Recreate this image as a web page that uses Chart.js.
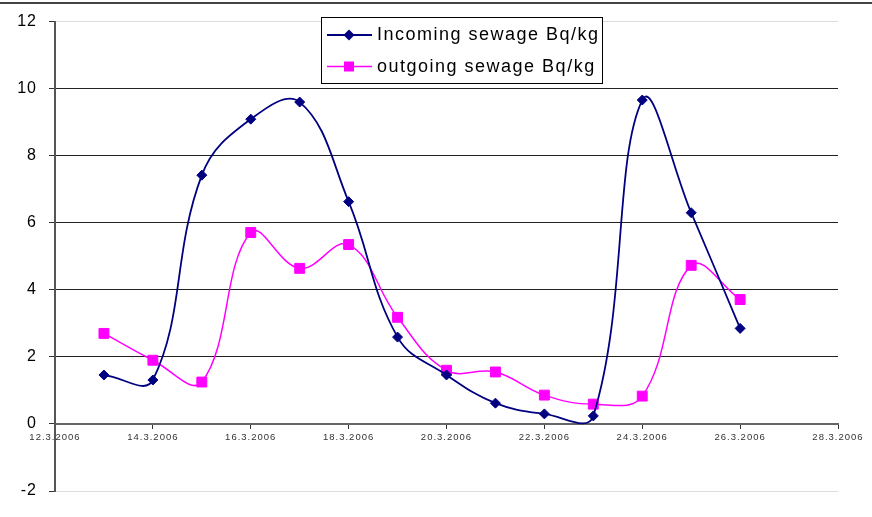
<!DOCTYPE html>
<html>
<head>
<meta charset="utf-8">
<title>Sewage Bq/kg</title>
<script src="https://cdn.jsdelivr.net/npm/chart.js@4.4.0/dist/chart.umd.min.js"></script>
<style>
    body { margin: 0; background: #fff; }
    #wrap { position: relative; width: 872px; height: 517px; }
    #frame { position: absolute; left: 0; top: 2px; width: 872px; height: 2px; background: #444; }
    canvas { position: absolute; left: 0; top: 0; }
</style>
</head>
<body>
<div id="wrap">
    <canvas id="chart" width="872" height="517"></canvas>
    <div id="frame"></div>
</div>
<script>
// Data (day of March 2006)
const days = [13, 14, 15, 16, 17, 18, 19, 20, 21, 22, 23, 24, 25, 26];
const incoming = [1.46, 1.31, 7.42, 9.09, 9.6, 6.63, 2.59, 1.46, 0.62, 0.3, 0.24, 9.66, 6.3, 2.85];
const outgoing = [2.7, 1.9, 1.25, 5.71, 4.64, 5.35, 3.18, 1.6, 1.55, 0.86, 0.59, 0.83, 4.73, 3.71];
const seriesLabels = ['Incoming sewage Bq/kg', 'outgoing sewage Bq/kg'];
const yTicks = [-2, 0, 2, 4, 6, 8, 10, 12];
const xTicks = [12, 14, 16, 18, 20, 22, 24, 26, 28];

function toPoints(values) {
    return days.map((d, i) => ({ x: d, y: values[i] }));
}

// Legend box drawn inside the plot, like the original
const boxLegend = {
    id: 'boxLegend',
    afterDraw(chart) {
        const ctx = chart.ctx;
        const x0 = 321.5, y0 = 17.5, w = 281, h = 66;
        ctx.save();
        ctx.fillStyle = '#fff';
        ctx.fillRect(x0, y0, w, h);
        ctx.strokeStyle = '#000';
        ctx.lineWidth = 1;
        ctx.strokeRect(x0, y0, w, h);

        chart.data.datasets.forEach((ds, i) => {
            const cy = 35 + i * 31.5;
            ctx.strokeStyle = ds.borderColor;
            ctx.lineWidth = ds.borderWidth;
            ctx.beginPath();
            ctx.moveTo(327, cy);
            ctx.lineTo(372, cy);
            ctx.stroke();

            ctx.fillStyle = ds.pointBackgroundColor;
            const cx = 349;
            if (ds.pointStyle === 'rectRot') {
                ctx.beginPath();
                ctx.moveTo(cx, cy - 5.5);
                ctx.lineTo(cx + 5.5, cy);
                ctx.lineTo(cx, cy + 5.5);
                ctx.lineTo(cx - 5.5, cy);
                ctx.closePath();
                ctx.fill();
            } else {
                ctx.fillRect(cx - 5, cy - 5, 10, 10);
            }

            ctx.fillStyle = '#000';
            ctx.font = '18px Arial, "Liberation Sans", sans-serif';
            ctx.letterSpacing = '1.5px';
            ctx.textAlign = 'left';
            ctx.textBaseline = 'alphabetic';
            ctx.fillText(ds.label, 377, cy + 5);
        });
        ctx.restore();
    }
};

const spacing = {
    id: 'spacing',
    beforeDraw(chart) {
        chart.ctx.letterSpacing = '1px';
    }
};

const ctx = document.getElementById('chart').getContext('2d');
const chart = new Chart(ctx, {
    type: 'line',
    data: {
        datasets: [{
            label: seriesLabels[0],
            data: toPoints(incoming),
            borderColor: '#000080',
            backgroundColor: '#000080',
            pointBackgroundColor: '#000080',
            pointBorderColor: '#000080',
            borderWidth: 1.8,
            pointStyle: 'rectRot',
            pointRadius: 5,
            pointBorderWidth: 1,
            tension: 0.4,
            fill: false
        }, {
            label: seriesLabels[1],
            data: toPoints(outgoing),
            borderColor: '#ff00ff',
            backgroundColor: '#ff00ff',
            pointBackgroundColor: '#ff00ff',
            pointBorderColor: '#ff00ff',
            borderWidth: 1.5,
            pointStyle: 'rect',
            pointRadius: 7,
            pointBorderWidth: 1,
            tension: 0.4,
            fill: false
        }]
    },
    options: {
        responsive: false,
        animation: false,
        events: [],
        layout: { padding: { top: 20, right: 34, bottom: 26, left: 0 } },
        plugins: {
            legend: { display: false },
            tooltip: { enabled: false }
        },
        scales: {
            x: {
                type: 'linear',
                position: { y: 0 },
                min: 12,
                max: 28,
                afterFit: scale => { scale.height = 0; },
                afterBuildTicks: scale => { scale.ticks = xTicks.map(v => ({ value: v })); },
                ticks: {
                    autoSkip: false,
                    maxRotation: 0,
                    padding: 4,
                    color: '#333',
                    font: { family: 'Arial, "Liberation Sans", sans-serif', size: 9.5 },
                    callback: v => v + '.3.2006'
                },
                grid: { drawOnChartArea: false, tickLength: 4, tickColor: '#333', tickWidth: 1 },
                border: { color: '#666', width: 2 }
            },
            y: {
                min: -2,
                max: 12,
                afterFit: scale => { scale.width = 55; },
                afterBuildTicks: scale => { scale.ticks = yTicks.map(v => ({ value: v })); },
                ticks: {
                    padding: 12,
                    color: '#000',
                    font: { family: 'Arial, "Liberation Sans", sans-serif', size: 16 }
                },
                grid: {
                    tickLength: 6,
                    tickColor: '#333',
                    lineWidth: 1,
                    color: c => {
                        const v = c.tick ? c.tick.value : null;
                        if (v === 0) return 'rgba(0,0,0,0)';
                        if (v === 12 || v === -2) return '#dddddd';
                        return '#222';
                    }
                },
                border: { color: '#555', width: 2 }
            }
        }
    },
    plugins: [spacing, boxLegend]
});
</script>
</body>
</html>
